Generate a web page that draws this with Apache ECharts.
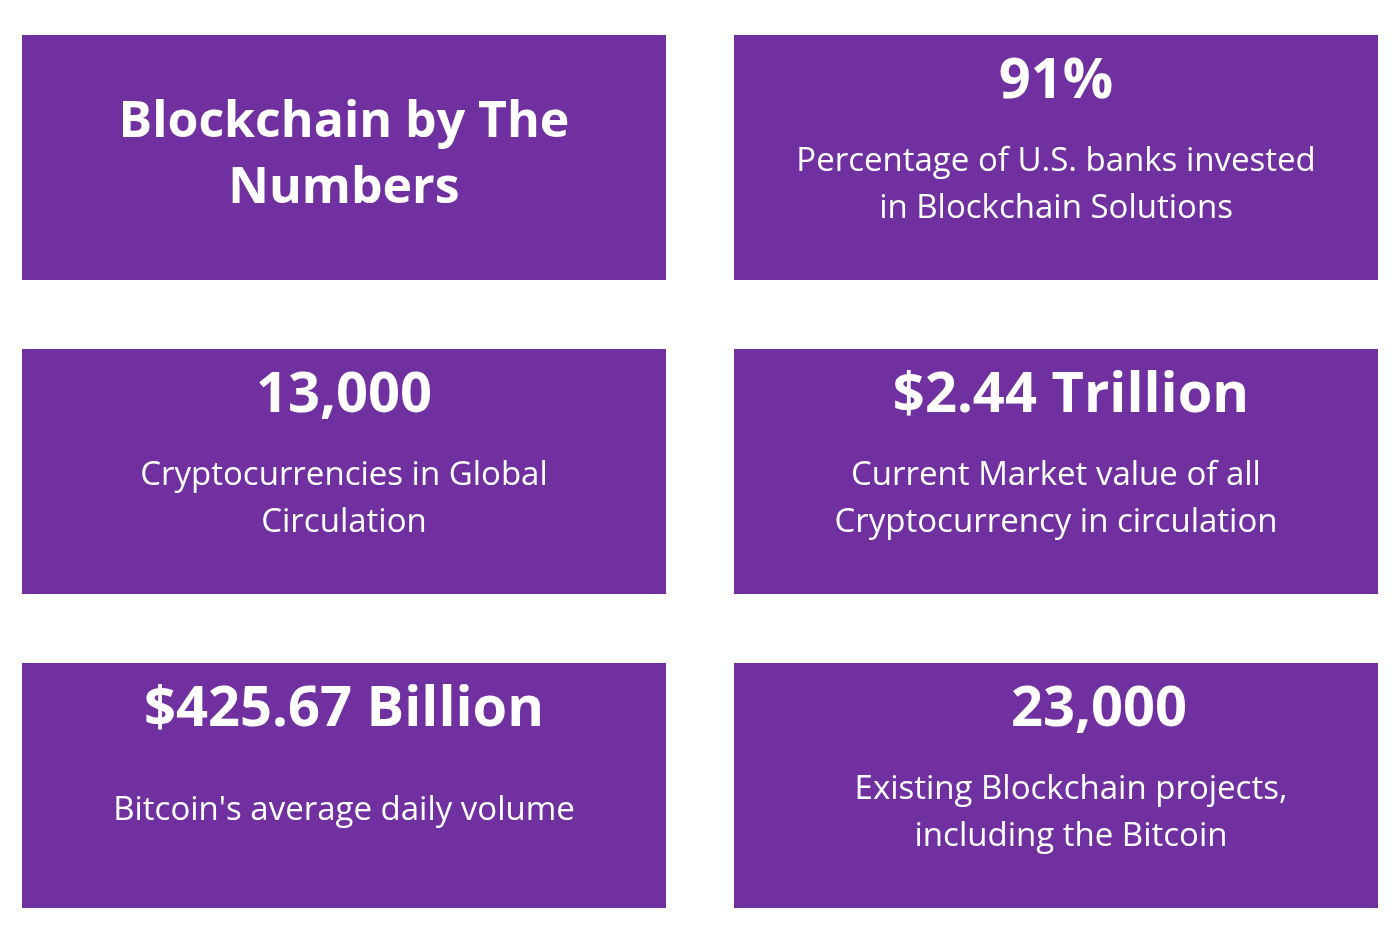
<!DOCTYPE html>
<html><head><meta charset="utf-8">
<script src="https://cdn.jsdelivr.net/npm/echarts@6/dist/echarts.min.js"></script>
<style>html,body{margin:0;padding:0;background:#fff}#c{width:1400px;height:931px}</style>
</head><body><div id="c"></div>
<script>
const headlines = ["Blockchain by The\nNumbers", "91%", "13,000", "$2.44 Trillion", "$425.67 Billion", "23,000"];
const captions = ["", "Percentage of U.S. banks invested\nin Blockchain Solutions", "Cryptocurrencies in Global\nCirculation", "Current Market value of all\nCryptocurrency in circulation", "Bitcoin's average daily volume", "Existing Blockchain projects,\nincluding the Bitcoin"];

const chart = echarts.init(document.getElementById('c'));
const colX = [22, 734], rowY = [35, 349, 663], W = 644, H = 245;
const FONT = '"Open Sans", "Noto Sans", sans-serif';
const elements = [];
headlines.forEach((h, i) => {
  const x = colX[i % 2], y = rowY[Math.floor(i / 2)];
  elements.push({type: 'rect', shape: {x, y, width: W, height: H}, style: {fill: '#7030A0'}});
  if (i === 0) {
    elements.push({type: 'text', x: x + W / 2, y: y + H / 2 - 2,
      style: {text: h, fill: '#fff', font: 'bold 50px ' + FONT, align: 'center', verticalAlign: 'middle', lineHeight: 66}});
  } else {
    const numDx = i === 3 ? 15 : (i === 5 ? 43 : 0);
    const capDx = i === 5 ? 15 : 0;
    const capY = i === 4 ? 148 : 150;
    elements.push({type: 'text', x: x + W / 2 + numDx, y: y + 47,
      style: {text: h, fill: '#fff', font: 'bold 56px ' + FONT, align: 'center', verticalAlign: 'middle'}});
    elements.push({type: 'text', x: x + W / 2 + capDx, y: y + capY,
      style: {text: captions[i], fill: '#fff', font: '33px ' + FONT, align: 'center', verticalAlign: 'middle', lineHeight: 47}});
  }
});
chart.setOption({backgroundColor: '#fff', graphic: {elements}});
</script></body></html>
